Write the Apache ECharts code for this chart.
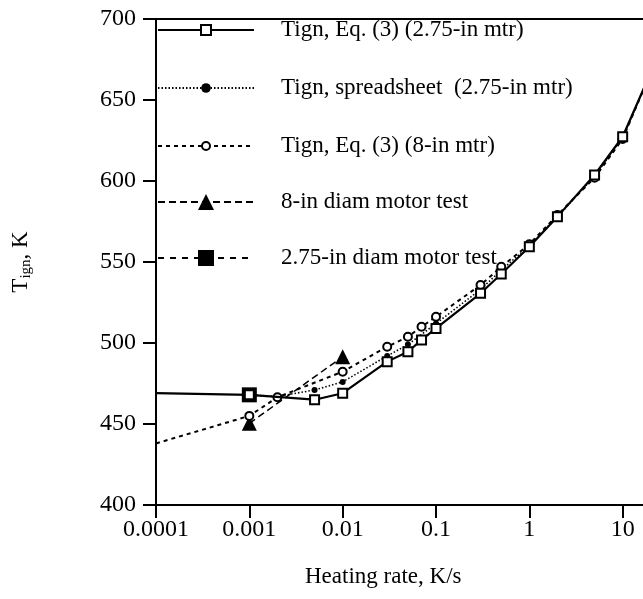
<!DOCTYPE html>
<html>
<head>
<meta charset="utf-8">
<script src="https://cdn.jsdelivr.net/npm/echarts@6/dist/echarts.min.js"></script>
<style>
html,body{margin:0;padding:0;background:#fff;overflow:hidden;}
#chart{width:760px;height:599px;}
</style>
</head>
<body>
<div id="chart"></div>
<script>
// ---- data ----
const tickLabels = ['0.0001', '0.001', '0.01', '0.1', '1', '10', '100'];
const seriesNames = [
  'Tign, Eq. (3) (2.75-in mtr)',
  'Tign, spreadsheet  (2.75-in mtr)',
  'Tign, Eq. (3) (8-in mtr)',
  '8-in diam motor test',
  '2.75-in diam motor test'
];
const eq275X = [0.0001, 0.001, 0.005, 0.01, 0.03, 0.05, 0.07, 0.1, 0.3, 0.5, 1, 2, 5, 10, 20];
const eq275Y = [469, 468, 465, 469, 488.5, 494.6, 501.9, 509, 530.7, 542.6, 559.4, 578, 603.7, 627.3, 667];
const sheetX = [0.001, 0.002, 0.005, 0.01, 0.03, 0.05, 0.1, 0.3, 0.5, 1, 2, 5, 10, 20];
const sheetY = [468, 467, 471, 476, 492, 499, 512, 533, 545, 560, 578, 603, 627, 667];
const eq8X = [0.0001, 0.001, 0.002, 0.01, 0.03, 0.05, 0.07, 0.1, 0.3, 0.5, 1, 2, 5, 10, 20];
const eq8Y = [438, 455, 466.5, 482.3, 497.7, 503.9, 510, 516.2, 535.8, 547, 561, 579, 602, 626, 667];
const motor8X = [0.001, 0.01];
const motor8Y = [450.4, 491.5];
const motor275X = [0.001];
const motor275Y = [468];

const X_MIN = 0.0001, X_MAX = 100;
const FONT = '"Liberation Serif", "DejaVu Serif", serif';

function pts(xs, ys) {
  return xs.map((x, i) => x === X_MIN ? { value: [x, ys[i]], symbol: 'none' } : [x, ys[i]]);
}

const chart = echarts.init(document.getElementById('chart'), null, { renderer: 'canvas' });

const legendBase = {
  orient: 'vertical', left: 157, padding: 0, itemWidth: 96,
  textStyle: { fontFamily: FONT, fontSize: 23, color: '#000', lineHeight: 26, padding: [0, 0, 0, 22] },
  inactiveColor: '#000', selectedMode: false
};
const legendRows = [
  { name: seriesNames[0], center: 30, h: 12.5 },
  { name: seriesNames[1], center: 88, h: 12 },
  { name: seriesNames[2], center: 146, h: 10 },
  { name: seriesNames[3], center: 202, h: 20 },
  { name: seriesNames[4], center: 258, h: 20 }
];

const option = {
  backgroundColor: '#fff',
  animation: false,
  textStyle: { fontFamily: FONT },
  legend: legendRows.map(r => Object.assign({}, legendBase, {
    data: [r.name], top: r.center - 13, itemHeight: r.h
  })),
  grid: { left: 156, top: 19, width: 560, height: 486, containLabel: false },
  xAxis: [{
    type: 'log', logBase: 10, min: X_MIN, max: X_MAX,
    axisLine: { lineStyle: { color: '#000', width: 2 } },
    axisTick: { inside: false, length: 13, lineStyle: { color: '#000', width: 2 } },
    minorTick: { show: false },
    splitLine: { show: false },
    axisLabel: {
      margin: 13, color: '#000', fontFamily: FONT, fontSize: 24,
      formatter: v => tickLabels[Math.round(Math.log10(v)) + 4]
    }
  }, {
    type: 'log', logBase: 10, min: X_MIN, max: X_MAX, position: 'top',
    axisLine: { show: true, lineStyle: { color: '#000', width: 2 } },
    axisTick: { show: false }, axisLabel: { show: false }, splitLine: { show: false }
  }],
  yAxis: {
    type: 'value', min: 400, max: 700, interval: 50,
    axisLine: { show: true, lineStyle: { color: '#000', width: 2 } },
    axisTick: { show: true, inside: false, length: 13, lineStyle: { color: '#000', width: 2 } },
    splitLine: { show: false },
    axisLabel: { margin: 20, color: '#000', fontFamily: FONT, fontSize: 24 },
    name: '{m|T}{s|ign}{m|, K}',
    nameLocation: 'middle', nameGap: 122, nameRotate: 90,
    nameTextStyle: {
      rich: {
        m: { fontFamily: FONT, fontSize: 23, color: '#000' },
        s: { fontFamily: FONT, fontSize: 15, color: '#000', padding: [11, 0, 0, 0] }
      }
    }
  },
  graphic: [{
    type: 'text', left: 305, top: 565,
    style: { text: 'Heating rate, K/s', font: '23px "Liberation Serif", serif', fill: '#000' }
  }],
  series: [
    {
      name: seriesNames[4], type: 'line', data: pts(motor275X, motor275Y),
      symbol: 'rect', symbolSize: 15, z: 2,
      itemStyle: { color: '#000' },
      lineStyle: { color: '#000', width: 1.5, type: [6, 6] }
    },
    {
      name: seriesNames[3], type: 'line', data: pts(motor8X, motor8Y),
      symbol: 'triangle', symbolSize: 15, z: 2,
      itemStyle: { color: '#000' },
      lineStyle: { color: '#000', width: 1.5, type: [7, 4] }
    },
    {
      name: seriesNames[1], type: 'line', data: pts(sheetX, sheetY),
      symbol: 'circle', symbolSize: 6, z: 3,
      itemStyle: { color: '#000' },
      lineStyle: { color: '#000', width: 1.6, type: [1.5, 2] }
    },
    {
      name: seriesNames[2], type: 'line', data: pts(eq8X, eq8Y),
      symbol: 'circle', symbolSize: 8, z: 4, showAllSymbol: true,
      itemStyle: { color: '#fff', borderColor: '#000', borderWidth: 2 },
      lineStyle: { color: '#000', width: 2, type: [4, 4] }
    },
    {
      name: seriesNames[0], type: 'line', data: pts(eq275X, eq275Y),
      symbol: 'rect', symbolSize: 9, z: 5, showAllSymbol: true,
      itemStyle: { color: '#fff', borderColor: '#000', borderWidth: 2 },
      lineStyle: { color: '#000', width: 2.2 }
    }
  ]
};
chart.setOption(option);
</script>
</body>
</html>
